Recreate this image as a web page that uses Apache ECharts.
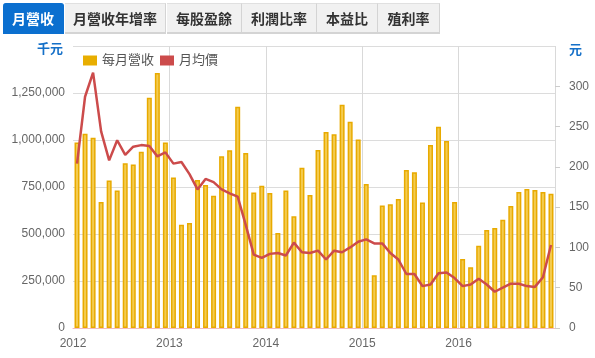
<!DOCTYPE html>
<html><head><meta charset="utf-8">
<script src="https://cdn.jsdelivr.net/npm/echarts@6/dist/echarts.min.js"></script>
<style>
html,body{margin:0;padding:0;background:#fff;}
#chart{position:absolute;left:0;top:0;width:595px;height:358px;}
#tabs{position:absolute;left:0;top:0;width:595px;height:36px;z-index:2;font-family:"Liberation Sans","Noto Sans CJK TC",sans-serif;}
.tab{position:absolute;top:3px;height:31px;line-height:30px;text-align:center;font-size:14px;font-weight:bold;color:#333;background:#f1f1f1;box-sizing:border-box;border-top:1px solid #e0e0e0;border-right:1px solid #d4d4d4;border-bottom:2px solid #d4d4d4;}
.tab.active{background:#0b6fcf;color:#fff;border-color:#0b6fcf;border-radius:3px 3px 0 0;}
</style>
</head><body>
<div id="tabs"></div>
<div id="chart"></div>
<script>
// ---- data ----
const tabNames = ['月營收','月營收年增率','每股盈餘','利潤比率','本益比','殖利率'];
const years = ['2012','2013','2014','2015','2016'];
const monthNums = ['01','02','03','04','05','06','07','08','09','10','11','12'];
const revenue = [
  987000, 1033000, 1012000, 670000, 785000, 732000, 876000, 870000, 938000, 1225000, 1356000, 987000,
  800000, 549000, 558000, 787000, 760000, 704000, 913000, 945000, 1177000, 931000, 721000, 757000,
  718000, 505000, 732000, 594000, 853000, 707000, 947000, 1042000, 1030000, 1188000, 1097000, 1003000,
  766000, 280000, 652000, 658000, 686000, 840000, 828000, 668000, 973000, 1071000, 995000, 670000,
  367000, 323000, 438000, 521000, 532000, 576000, 649000, 723000, 739000, 734000, 723000, 714000
];
const price = [
  204, 287, 317, 244, 208, 233, 215, 225, 227, 226, 213, 218,
  204, 206, 191, 172, 185, 181, 172, 167, 163, 128, 91, 87,
  92, 93, 90, 106, 94, 93, 96, 85, 96, 94, 100, 107,
  110, 105, 105, 93, 85, 67, 67, 52, 54, 68, 69, 62,
  52, 54, 61, 54, 45, 50, 55, 55, 52, 51, 63, 103
];
const seriesNames = ['每月營收','月均價'];
const axisNames = ['千元','元'];

// ---- tabs ----
const tabLefts = [3, 65, 167, 242, 317, 378];
const tabWidths = [61, 101, 75, 75, 61, 62];
const tabsEl = document.getElementById('tabs');
tabNames.forEach((n,i)=>{
  const d = document.createElement('div');
  d.className = 'tab' + (i===0 ? ' active' : '');
  d.style.left = tabLefts[i] + 'px';
  d.style.width = tabWidths[i] + 'px';
  d.textContent = n;
  tabsEl.appendChild(d);
});

// ---- chart ----
const categories = [];
years.forEach(y => monthNums.forEach(m => categories.push(y + '-' + m)));

const FONT = '"Liberation Sans", Arial, "Noto Sans CJK TC", sans-serif';
const chart = echarts.init(document.getElementById('chart'), null, {renderer:'canvas'});
chart.setOption({
  animation: false,
  textStyle: {fontFamily: FONT},
  grid: {left: 73, right: 40, top: 46, bottom: 30},
  legend: {
    left: 83, top: 54, padding: 0, itemWidth: 14, itemHeight: 10, itemGap: 6,
    icon: 'rect',
    textStyle: {color: '#555', fontSize: 13, fontFamily: FONT},
    data: [
      {name: seriesNames[0], itemStyle: {color: '#E8AE00', borderWidth: 0}},
      {name: seriesNames[1], itemStyle: {color: '#CC4B4B', borderWidth: 0}}
    ]
  },
  xAxis: {
    type: 'category', data: categories, boundaryGap: true,
    axisLine: {show: true, lineStyle: {color: '#f2bcbc', width: 1}},
    axisTick: {show: false},
    axisLabel: {
      interval: (i) => i % 12 === 0,
      formatter: (v) => v.slice(0, 4),
      color: '#666', fontSize: 12, margin: 10, padding: [0, 8, 0, 0]
    },
    splitLine: {show: true, interval: (i) => i % 12 === 0 && i > 0, lineStyle: {color: '#d9d9d9', width: 1}}
  },
  yAxis: [
    {
      type: 'value', min: 0, max: 1500000, interval: 250000, position: 'left',
      name: axisNames[0], nameLocation: 'end', nameGap: -3,
      nameTextStyle: {color: '#1570c8', fontWeight: 'bold', fontSize: 13, align: 'right', verticalAlign: 'middle', padding: [0, 10, 0, 0]},
      axisLabel: {color: '#666', fontSize: 12, margin: 8, showMaxLabel: false, formatter: (v) => v.toLocaleString('en-US')},
      axisLine: {show: false}, axisTick: {show: false},
      splitLine: {show: true, lineStyle: {color: '#dcdcdc', width: 1}}
    },
    {
      type: 'value', min: 0, max: 350, interval: 50, position: 'right',
      name: axisNames[1], nameLocation: 'end', nameGap: -4,
      nameTextStyle: {color: '#1570c8', fontWeight: 'bold', fontSize: 13, align: 'left', verticalAlign: 'middle', padding: [0, 0, 0, 14]},
      axisLabel: {color: '#666', fontSize: 12, margin: 14, showMaxLabel: false},
      axisLine: {show: false},
      axisTick: {show: true, length: 5, lineStyle: {color: '#cccccc'}},
      splitLine: {show: false}
    }
  ],
  series: [
    {
      name: seriesNames[0], type: 'bar', yAxisIndex: 0, data: revenue, barWidth: 5,
      itemStyle: {color: '#F4CB4F', borderColor: '#E8AA00', borderWidth: 1.5}
    },
    {
      name: seriesNames[1], type: 'line', yAxisIndex: 1, data: price,
      symbol: 'none', showSymbol: false, z: 3,
      lineStyle: {color: '#CC4B4B', width: 2.5},
      itemStyle: {color: '#CC4B4B'}
    }
  ]
});
</script>
</body></html>
